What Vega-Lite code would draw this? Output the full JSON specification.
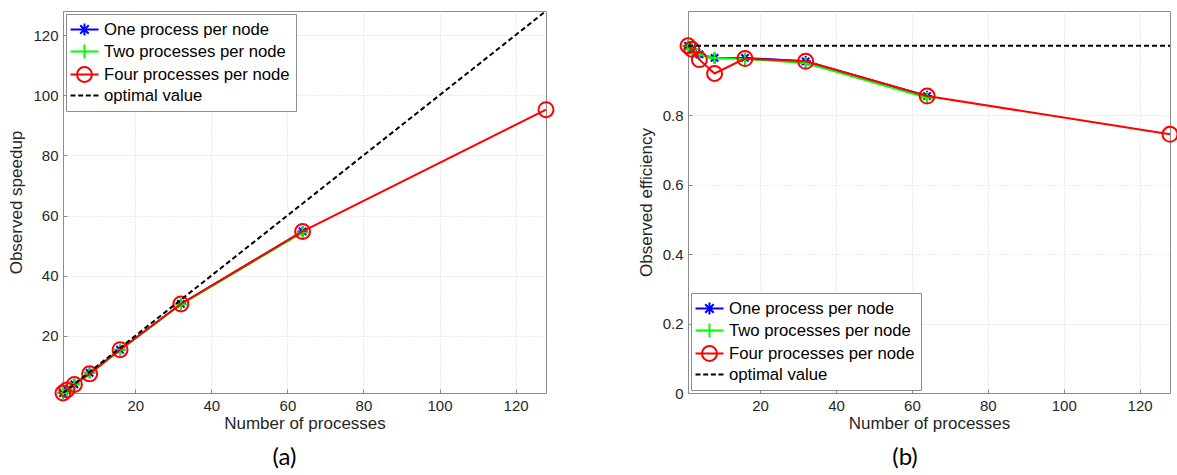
{
  "$schema": "https://vega.github.io/schema/vega-lite/v6.json",
  "background": "white",
  "padding": {"left": 7, "top": 10, "right": 2, "bottom": 0},
  "config": {
    "view": {"stroke": "#8c8c8c", "strokeWidth": 1},
    "axis": {
      "labelFont": "Liberation Sans, Arial, sans-serif", "labelFontSize": 15, "labelColor": "#262626",
      "titleFont": "Liberation Sans, Arial, sans-serif", "titleFontSize": 17, "titleFontWeight": "normal", "titleColor": "#262626",
      "domainColor": "#8c8c8c", "tickColor": "#8c8c8c", "tickSize": -4, "labelPadding": 9,
      "gridColor": "#d4d4d4", "gridDash": [1, 2], "grid": true
    },
    "legend": {
      "title": null, "labelFont": "Liberation Sans, Arial, sans-serif", "labelFontSize": 16.7, "labelColor": "#000000",
      "labelLimit": 400, "fillColor": "white", "strokeColor": "#8c8c8c", "padding": 6,
      "symbolSize": 289, "symbolStrokeWidth": 2, "symbolFillColor": "transparent", "symbolOpacity": 1,
      "labelOffset": 13, "rowPadding": 0
    },
    "title": {"font": "Lato", "fontSize": 24, "fontWeight": "normal", "orient": "bottom", "color": "#000000", "offset": 15}
  },
  "datasets": {
    "speedup": [
      {"p": 1, "series": "One process per node", "v": 1},
      {"p": 2, "series": "One process per node", "v": 1.98},
      {"p": 4, "series": "One process per node", "v": 3.9},
      {"p": 8, "series": "One process per node", "v": 7.7},
      {"p": 16, "series": "One process per node", "v": 15.4},
      {"p": 32, "series": "One process per node", "v": 30.6},
      {"p": 64, "series": "One process per node", "v": 54.7},
      {"p": 1, "series": "Two processes per node", "v": 1},
      {"p": 2, "series": "Two processes per node", "v": 1.98},
      {"p": 4, "series": "Two processes per node", "v": 3.9},
      {"p": 8, "series": "Two processes per node", "v": 7.7},
      {"p": 16, "series": "Two processes per node", "v": 15.4},
      {"p": 32, "series": "Two processes per node", "v": 30.4},
      {"p": 64, "series": "Two processes per node", "v": 54.4},
      {"p": 1, "series": "Four processes per node", "v": 1},
      {"p": 2, "series": "Four processes per node", "v": 1.98},
      {"p": 4, "series": "Four processes per node", "v": 3.84},
      {"p": 8, "series": "Four processes per node", "v": 7.36},
      {"p": 16, "series": "Four processes per node", "v": 15.4},
      {"p": 32, "series": "Four processes per node", "v": 30.6},
      {"p": 64, "series": "Four processes per node", "v": 54.7},
      {"p": 128, "series": "Four processes per node", "v": 95.2},
      {"p": 1, "series": "optimal value", "v": 1},
      {"p": 128, "series": "optimal value", "v": 128}
    ],
    "efficiency": [
      {"p": 1, "series": "One process per node", "v": 1.0},
      {"p": 2, "series": "One process per node", "v": 0.99},
      {"p": 4, "series": "One process per node", "v": 0.975},
      {"p": 8, "series": "One process per node", "v": 0.965},
      {"p": 16, "series": "One process per node", "v": 0.965},
      {"p": 32, "series": "One process per node", "v": 0.955},
      {"p": 64, "series": "One process per node", "v": 0.855},
      {"p": 1, "series": "Two processes per node", "v": 1.0},
      {"p": 2, "series": "Two processes per node", "v": 0.99},
      {"p": 4, "series": "Two processes per node", "v": 0.975},
      {"p": 8, "series": "Two processes per node", "v": 0.965},
      {"p": 16, "series": "Two processes per node", "v": 0.962},
      {"p": 32, "series": "Two processes per node", "v": 0.95},
      {"p": 64, "series": "Two processes per node", "v": 0.85},
      {"p": 1, "series": "Four processes per node", "v": 1.0},
      {"p": 2, "series": "Four processes per node", "v": 0.99},
      {"p": 4, "series": "Four processes per node", "v": 0.96},
      {"p": 8, "series": "Four processes per node", "v": 0.92},
      {"p": 16, "series": "Four processes per node", "v": 0.963},
      {"p": 32, "series": "Four processes per node", "v": 0.955},
      {"p": 64, "series": "Four processes per node", "v": 0.855},
      {"p": 128, "series": "Four processes per node", "v": 0.745},
      {"p": 1, "series": "optimal value", "v": 1.0},
      {"p": 128, "series": "optimal value", "v": 1.0}
    ]
  },
  "resolve": {"scale": {"color": "independent", "shape": "independent"}},
  "spacing": 78,
  "hconcat": [
    {
      "width": 483, "height": 382,
      "title": {"text": "(a)", "dx": -20},
      "data": {"name": "speedup"},
      "encoding": {
        "x": {"field": "p", "type": "quantitative", "scale": {"domain": [1, 128], "nice": false, "zero": false},
              "axis": {"values": [20, 40, 60, 80, 100, 120], "title": "Number of processes", "titlePadding": 2}},
        "y": {"field": "v", "type": "quantitative", "scale": {"domain": [1, 128], "nice": false, "zero": false},
              "axis": {"values": [20, 40, 60, 80, 100, 120], "title": "Observed speedup", "titlePadding": 7}}
      },
      "layer": [
        {
          "transform": [{"filter": "datum.series === 'One process per node'"}],
          "mark": {"type": "line", "strokeWidth": 2, "color": "#0000ff"}, "encoding": {}
        },
        {
          "transform": [{"filter": "datum.series === 'One process per node'"}],
          "mark": {"type": "point", "filled": false, "strokeWidth": 2, "opacity": 1, "size": 110,
                   "shape": "M-1,0H1M0,-1V1M-0.7,-0.7L0.7,0.7M-0.7,0.7L0.7,-0.7", "color": "#0000ff"}
        },
        {
          "transform": [{"filter": "datum.series === 'Two processes per node'"}],
          "mark": {"type": "line", "strokeWidth": 2, "color": "#00ff00"}, "encoding": {}
        },
        {
          "transform": [{"filter": "datum.series === 'Two processes per node'"}],
          "mark": {"type": "point", "filled": false, "strokeWidth": 2, "opacity": 1, "size": 144,
                   "shape": "M-1,0H1M0,-1V1", "color": "#00ff00"}
        },
        {
          "transform": [{"filter": "datum.series === 'Four processes per node'"}],
          "mark": {"type": "line", "strokeWidth": 2, "color": "#ff0000"}, "encoding": {}
        },
        {
          "transform": [{"filter": "datum.series === 'Four processes per node'"}],
          "mark": {"type": "point", "filled": false, "strokeWidth": 2, "opacity": 1, "size": 225,
                   "shape": "circle", "color": "#ff0000"}
        },
        {
          "transform": [{"filter": "datum.series === 'optimal value'"}],
          "mark": {"type": "line", "strokeWidth": 2, "strokeDash": [5, 3], "color": "#000000", "clip": true},
          "encoding": {}
        },
        {
          "mark": {"type": "point", "filled": false, "opacity": 0},
          "encoding": {
            "color": {"field": "series", "type": "nominal",
                      "scale": {"domain": ["One process per node", "Two processes per node", "Four processes per node", "optimal value"],
                                "range": ["#0000ff", "#00ff00", "#ff0000", "#000000"]},
                      "legend": {"orient": "top-left", "offset": 3, "symbolOpacity": 1}},
            "shape": {"field": "series", "type": "nominal",
                      "scale": {"domain": ["One process per node", "Two processes per node", "Four processes per node", "optimal value"],
                                "range": [
                                  "M-1.29,0H2M0.35,-0.71V0.71M-0.15,-0.5L0.85,0.5M-0.15,0.5L0.85,-0.5",
                                  "M-1.29,0H2M0.35,-0.82V0.82",
                                  "M-1.29,0H2M1.23,0A0.88,0.88 0 1,1 -0.53,0A0.88,0.88 0 1,1 1.23,0",
                                  "M-1.29,0H-0.71M-0.39,0H0.2M0.51,0H1.1M1.41,0H2"
                                ]},
                      "legend": {"orient": "top-left", "offset": 3, "symbolOpacity": 1}}
          }
        }
      ]
    },
    {
      "width": 482, "height": 382,
      "title": {"text": "(b)", "dx": -24},
      "data": {"name": "efficiency"},
      "encoding": {
        "x": {"field": "p", "type": "quantitative", "scale": {"domain": [1, 128], "nice": false, "zero": false},
              "axis": {"values": [20, 40, 60, 80, 100, 120], "title": "Number of processes", "titlePadding": 2}},
        "y": {"field": "v", "type": "quantitative", "scale": {"domain": [0, 1.1], "nice": false, "zero": false},
              "axis": {"values": [0, 0.2, 0.4, 0.6, 0.8], "format": "~g", "title": "Observed efficiency", "titlePadding": 7}}
      },
      "layer": [
        {
          "transform": [{"filter": "datum.series === 'One process per node'"}],
          "mark": {"type": "line", "strokeWidth": 2, "color": "#0000ff"}, "encoding": {}
        },
        {
          "transform": [{"filter": "datum.series === 'One process per node'"}],
          "mark": {"type": "point", "filled": false, "strokeWidth": 2, "opacity": 1, "size": 110,
                   "shape": "M-1,0H1M0,-1V1M-0.7,-0.7L0.7,0.7M-0.7,0.7L0.7,-0.7", "color": "#0000ff"}
        },
        {
          "transform": [{"filter": "datum.series === 'Two processes per node'"}],
          "mark": {"type": "line", "strokeWidth": 2, "color": "#00ff00"}, "encoding": {}
        },
        {
          "transform": [{"filter": "datum.series === 'Two processes per node'"}],
          "mark": {"type": "point", "filled": false, "strokeWidth": 2, "opacity": 1, "size": 144,
                   "shape": "M-1,0H1M0,-1V1", "color": "#00ff00"}
        },
        {
          "transform": [{"filter": "datum.series === 'Four processes per node'"}],
          "mark": {"type": "line", "strokeWidth": 2, "color": "#ff0000"}, "encoding": {}
        },
        {
          "transform": [{"filter": "datum.series === 'Four processes per node'"}],
          "mark": {"type": "point", "filled": false, "strokeWidth": 2, "opacity": 1, "size": 225,
                   "shape": "circle", "color": "#ff0000"}
        },
        {
          "transform": [{"filter": "datum.series === 'optimal value'"}],
          "mark": {"type": "line", "strokeWidth": 2, "strokeDash": [5, 3], "color": "#000000"},
          "encoding": {}
        },
        {
          "mark": {"type": "point", "filled": false, "opacity": 0},
          "encoding": {
            "color": {"field": "series", "type": "nominal",
                      "scale": {"domain": ["One process per node", "Two processes per node", "Four processes per node", "optimal value"],
                                "range": ["#0000ff", "#00ff00", "#ff0000", "#000000"]},
                      "legend": {"orient": "bottom-left", "offset": 3, "symbolOpacity": 1}},
            "shape": {"field": "series", "type": "nominal",
                      "scale": {"domain": ["One process per node", "Two processes per node", "Four processes per node", "optimal value"],
                                "range": [
                                  "M-1.29,0H2M0.35,-0.71V0.71M-0.15,-0.5L0.85,0.5M-0.15,0.5L0.85,-0.5",
                                  "M-1.29,0H2M0.35,-0.82V0.82",
                                  "M-1.29,0H2M1.23,0A0.88,0.88 0 1,1 -0.53,0A0.88,0.88 0 1,1 1.23,0",
                                  "M-1.29,0H-0.71M-0.39,0H0.2M0.51,0H1.1M1.41,0H2"
                                ]},
                      "legend": {"orient": "bottom-left", "offset": 3, "symbolOpacity": 1}}
          }
        }
      ]
    }
  ]
}
